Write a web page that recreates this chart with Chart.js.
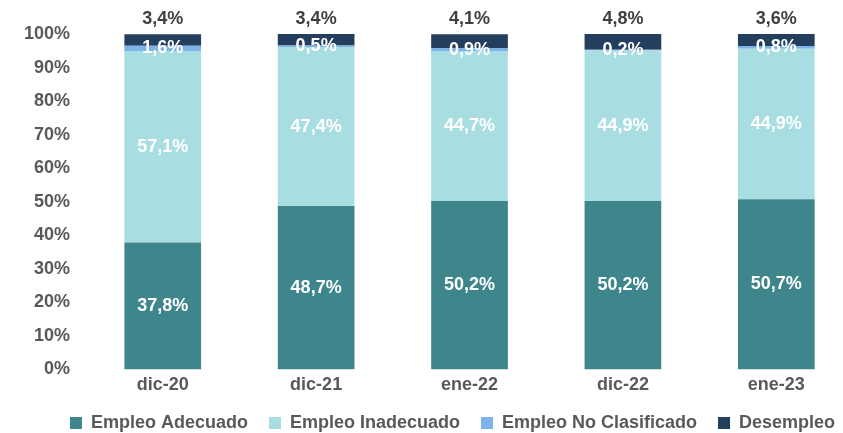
<!DOCTYPE html>
<html>
<head>
<meta charset="utf-8">
<script src="https://cdn.jsdelivr.net/npm/chart.js@4/dist/chart.umd.min.js"></script>
<style>
  html, body {margin: 0; padding: 0; background: #fff; overflow: hidden;}
  .wrap {width: 853px; height: 433px;}
</style>
</head>
<body>
<div class="wrap"><canvas id="chart"></canvas></div>
<script>
const categories = ['dic-20', 'dic-21', 'ene-22', 'dic-22', 'ene-23']
const empleoAdecuado = [37.8, 48.7, 50.2, 50.2, 50.7]
const empleoInadecuado = [57.1, 47.4, 44.7, 44.9, 44.9]
const empleoNoClasificado = [1.6, 0.5, 0.9, 0.2, 0.8]
const desempleo = [3.4, 3.4, 4.1, 4.8, 3.6]

const font = {family: '"Liberation Sans", Arial, sans-serif', size: 18, weight: 'bold'}

const fmt = v => v.toFixed(1).replace('.', ',') + '%'

// value labels: white inside the bars, desempleo on top of the bar
const valueLabels = {
  id: 'valueLabels',
  afterDatasetsDraw(chart) {
    const ctx = chart.ctx
    ctx.save()
    ctx.font = `bold 18px ${font.family}`
    ctx.textAlign = 'center'
    ctx.textBaseline = 'middle'
    chart.data.datasets.forEach((ds, i) => {
      const meta = chart.getDatasetMeta(i)
      meta.data.forEach((bar, j) => {
        const v = ds.data[j]
        if (i === 3) {
          ctx.fillStyle = '#404040'
          ctx.fillText(fmt(v), bar.x, bar.y - 15)
        } else {
          ctx.fillStyle = '#ffffff'
          ctx.fillText(fmt(v), bar.x, (bar.y + bar.base) / 2)
        }
      })
    })
    ctx.restore()
  },
}

// the legend in the original sits a bit right of the canvas centre and low
const legendShift = {
  id: 'legendShift',
  afterLayout(chart) {
    const l = chart.legend
    l.left += 22
    l.right += 22
    l.top -= 8
    l.bottom -= 8
  },
}

new Chart('chart', {
  type: 'bar',
  data: {
    labels: categories,
    datasets: [
      {label: 'Empleo Adecuado', data: empleoAdecuado, backgroundColor: '#3E868C'},
      {label: 'Empleo Inadecuado', data: empleoInadecuado, backgroundColor: '#A8DDE2'},
      {label: 'Empleo No Clasificado', data: empleoNoClasificado, backgroundColor: '#7DB3E8'},
      {label: 'Desempleo', data: desempleo, backgroundColor: '#243F5E'},
    ],
  },
  options: {
    responsive: true,
    maintainAspectRatio: false,
    animation: false,
    layout: {padding: {top: 34, left: 8, right: 0, bottom: -17}},
    datasets: {bar: {barPercentage: 0.5, categoryPercentage: 1}},
    scales: {
      x: {
        stacked: true,
        grid: {display: false, drawTicks: false},
        border: {display: false},
        ticks: {color: '#595959', font, padding: 5},
      },
      y: {
        stacked: true,
        min: 0,
        max: 100,
        grid: {display: false, drawTicks: false},
        border: {display: false},
        ticks: {stepSize: 10, color: '#595959', font, padding: 16, callback: v => v + '%'},
      },
    },
    plugins: {
      legend: {
        position: 'bottom',
        labels: {color: '#595959', font, boxWidth: 12, boxHeight: 12, padding: 21},
      },
      tooltip: {enabled: false},
    },
  },
  plugins: [valueLabels, legendShift],
})
</script>
</body>
</html>
